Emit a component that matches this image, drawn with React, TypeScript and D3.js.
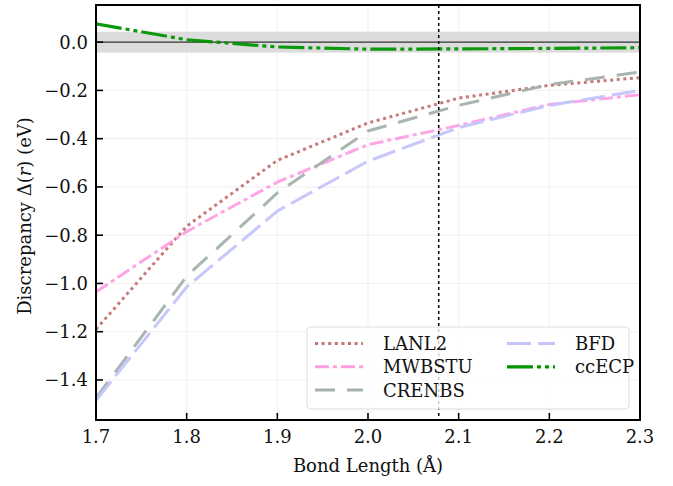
import React from "react";
import * as d3 from "d3";

const bondLengths = [1.7, 1.8, 1.9, 2.0, 2.1, 2.2, 2.3];
const lanl2 = [-1.19, -0.763, -0.49, -0.335, -0.232, -0.179, -0.147];
const mwbstu = [-1.035, -0.785, -0.58, -0.425, -0.345, -0.258, -0.218];
const crenbs = [-1.475, -0.97, -0.625, -0.368, -0.262, -0.176, -0.124];
const bfd = [-1.484, -1.015, -0.7, -0.493, -0.354, -0.262, -0.2];
const ccecp = [0.076, 0.01, -0.02, -0.029, -0.028, -0.026, -0.023];
const xTicks = [1.7, 1.8, 1.9, 2.0, 2.1, 2.2, 2.3];
const yTicks = [0.0, -0.2, -0.4, -0.6, -0.8, -1.0, -1.2, -1.4];
const eqBond = 2.078;
const chemAcc = 0.0434;

const seriesList = [
  { name: "LANL2", values: lanl2, color: "#c47272", dash: "3,3.6", width: 3 },
  { name: "MWBSTU", values: mwbstu, color: "#ff9fe4", dash: "14,4,4,4", width: 3 },
  { name: "CRENBS", values: crenbs, color: "#a3b1ad", dash: "20,12", width: 3 },
  { name: "BFD", values: bfd, color: "#c4c4fb", dash: "24,7", width: 3 },
  { name: "ccECP", values: ccecp, color: "#009400", dash: "26,4,4,4,4,4", width: 3.2 },
];

const W = 673;
const H = 486;
const L = 96, R = 640, T = 5, B = 420;
const FONT = "'DejaVu Serif', 'Liberation Serif', serif";
const FS = 18;

export default function App() {
  const x = d3.scaleLinear().domain([1.7, 2.3]).range([L, R]);
  const y = d3.scaleLinear().domain([-1.566, 0.154]).range([B, T]);
  const line = d3
    .line<number>()
    .x((_, i) => x(bondLengths[i]))
    .y((v) => y(v));

  const fmt = (v: number) => (v < 0 ? "\u2212" : "") + Math.abs(v).toFixed(1);

  const legendItems = [
    { s: seriesList[0], col: 0, row: 0 },
    { s: seriesList[1], col: 0, row: 1 },
    { s: seriesList[2], col: 0, row: 2 },
    { s: seriesList[3], col: 1, row: 0 },
    { s: seriesList[4], col: 1, row: 1 },
  ];
  const lgX = 307, lgY = 327, lgW = 322, lgH = 82;

  return (
    <svg
      width={W}
      height={H}
      style={{ position: "absolute", left: 0, top: 0, background: "#fff" }}
      fontFamily={FONT}
    >
      <defs>
        <clipPath id="plotclip">
          <rect x={L} y={T} width={R - L} height={B - T} />
        </clipPath>
      </defs>
      {xTicks.map((t) => (
        <line key={"gx" + t} x1={x(t)} x2={x(t)} y1={T} y2={B} stroke="#ebebeb" strokeWidth={0.8} />
      ))}
      {yTicks.map((t) => (
        <line key={"gy" + t} x1={L} x2={R} y1={y(t)} y2={y(t)} stroke="#ebebeb" strokeWidth={0.8} />
      ))}
      <rect x={L} y={y(chemAcc)} width={R - L} height={y(-chemAcc) - y(chemAcc)} fill="#dcdcdc" />
      <line x1={L} x2={R} y1={y(0)} y2={y(0)} stroke="#333" strokeWidth={1.3} />
      <g clipPath="url(#plotclip)">
        {seriesList.map((s) => (
          <path
            key={s.name}
            d={line(s.values) || ""}
            fill="none"
            stroke={s.color}
            strokeWidth={s.width}
            strokeDasharray={s.dash}
            strokeLinejoin="round"
            opacity={0.95}
          />
        ))}
      </g>
      <line x1={x(eqBond)} x2={x(eqBond)} y1={T} y2={B} stroke="#000" strokeWidth={1.5} strokeDasharray="3,3" />
      <rect x={lgX} y={lgY} width={lgW} height={lgH} rx={4} fill="#fff" fillOpacity={0.8} stroke="#dddddd" strokeWidth={1} />
      {legendItems.map(({ s, col, row }) => {
        const hx = col === 0 ? 315 : 507;
        const ty = 343.5 + row * 23.3;
        return (
          <g key={"lg" + s.name}>
            <line x1={hx} x2={hx + 48} y1={ty} y2={ty} stroke={s.color} strokeWidth={s.width} strokeDasharray={s.dash} />
            <text x={hx + 68} y={ty} dy="0.36em" fontSize={FS} fill="#111">
              {s.name}
            </text>
          </g>
        );
      })}
      <rect x={L} y={T} width={R - L} height={B - T} fill="none" stroke="#000" strokeWidth={2} />
      {xTicks.map((t) => (
        <g key={"xt" + t}>
          <line x1={x(t)} x2={x(t)} y1={B} y2={B - 7} stroke="#000" strokeWidth={1.6} />
          <text x={x(t)} y={B + 17} dy="0.36em" textAnchor="middle" fontSize={FS} fill="#111">
            {t.toFixed(1)}
          </text>
        </g>
      ))}
      {yTicks.map((t) => (
        <g key={"yt" + t}>
          <line x1={L} x2={L + 7} y1={y(t)} y2={y(t)} stroke="#000" strokeWidth={1.6} />
          <text x={88} y={y(t)} dy="0.36em" textAnchor="end" fontSize={FS} fill="#111">
            {fmt(t)}
          </text>
        </g>
      ))}
      <text x={(L + R) / 2} y={466} dy="0.36em" textAnchor="middle" fontSize={FS} fill="#111">
        Bond Length (Å)
      </text>
      <text
        transform={`translate(25, 216) rotate(-90)`}
        textAnchor="middle"
        dy="0.36em"
        fontSize={FS}
        fill="#111"
      >
        Discrepancy Δ(<tspan fontStyle="italic">r</tspan>) (eV)
      </text>
    </svg>
  );
}
